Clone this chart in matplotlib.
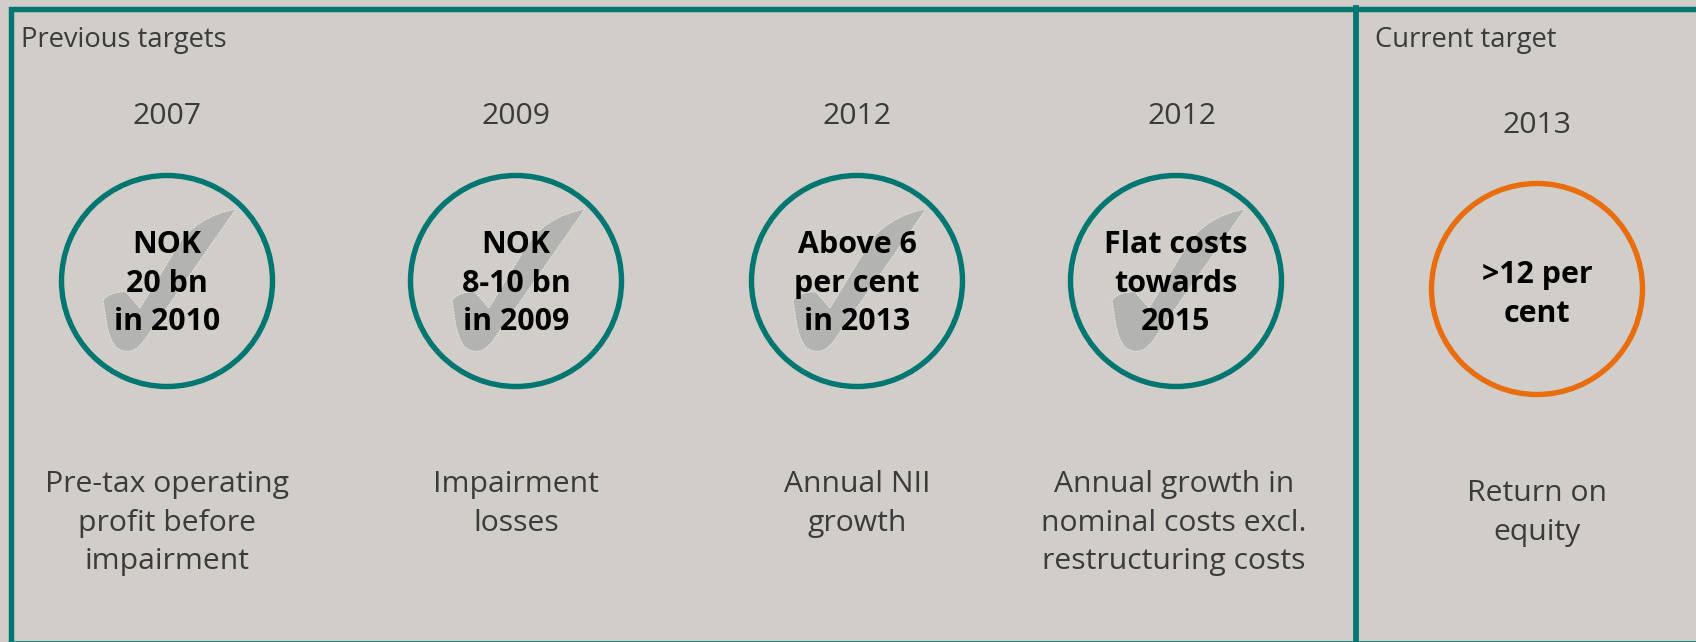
import matplotlib
matplotlib.use('Agg')
import matplotlib.pyplot as plt
from matplotlib.patches import Circle, PathPatch
from matplotlib.path import Path

W, H = 1696, 642
BG = '#d1cec9'
TEAL = '#007672'
ORANGE = '#e96d0c'
GREY_TEXT = '#3b3b3b'

# target data
years = ['2007', '2009', '2012', '2012', '2013']
targets = [['NOK', '20 bn', 'in 2010'],
           ['NOK', '8-10 bn', 'in 2009'],
           ['Above 6', 'per cent', 'in 2013'],
           ['Flat costs', 'towards', '2015'],
           ['>12 per', 'cent']]
descriptions = [['Pre-tax operating', 'profit before', 'impairment'],
                ['Impairment', 'losses'],
                ['Annual NII', 'growth'],
                ['Annual growth in', 'nominal costs excl.', 'restructuring costs'],
                ['Return on', 'equity']]
reached = [True, True, True, True, False]

# layout in pixels, text rows are baselines
centres_x = [167, 516, 857, 1176, 1537]
centres_y = [281, 281, 281, 281, 289]
year_x = [167, 516, 857, 1182, 1537]
desc_x = [167, 516, 857, 1174, 1537]
year_y = [124, 124, 124, 124, 133]
target_y = [253, 253, 253, 253, 283]
desc_y = [492, 492, 492, 492, 501]
RADIUS = 105.5
LINE_H = 38.7

# tick outline, offsets from the circle centre
tick_moves = [(-64, 19), (-56, 10), (-41, 11), (-27, 27), (10, -34), (28, -64), (69, -72),
              (-24, 61), (-36, 76), (-50, 67), (-58, 60), (-61, 39), (-64, 19)]
tick_codes = [Path.MOVETO, Path.CURVE3, Path.CURVE3, Path.LINETO, Path.LINETO, Path.CURVE3, Path.CURVE3,
              Path.LINETO, Path.CURVE3, Path.CURVE3, Path.CURVE3, Path.CURVE3, Path.CLOSEPOLY]


def draw_tick(ax, cx, cy):
    verts = [(cx + dx, cy + dy) for dx, dy in tick_moves]
    ax.add_patch(PathPatch(Path(verts, tick_codes), facecolor='#b3b3b2', edgecolor='#e4e4e2',
                           lw=0.7, ls=(0, (2, 1)), joinstyle='round', zorder=2))


plt.rcParams['font.family'] = ['Open Sans', 'DejaVu Sans']
fig = plt.figure(figsize=(W / 100, H / 100), dpi=100, facecolor=BG)
ax = fig.add_axes([0, 0, 1, 1])
ax.set_xlim(0, W)
ax.set_ylim(H, 0)
ax.axis('off')

# outer frame and divider
ax.plot([10.5, 10.5, W + 5], [H + 5, 8.5, 8.5], color=TEAL, lw=3.9, solid_joinstyle='miter')
ax.plot([10, W], [641.5, 641.5], color=TEAL, lw=1.2)
ax.plot([1356, 1356], [8, H], color=TEAL, lw=4.2)

ax.text(21, 47, 'Previous targets', fontsize=19.7, color=GREY_TEXT, va='baseline', ha='left')
ax.text(1375, 47, 'Current target', fontsize=19.7, color=GREY_TEXT, va='baseline', ha='left')

for i, year in enumerate(years):
    cx, cy = centres_x[i], centres_y[i]
    ax.text(year_x[i], year_y[i], year, fontsize=21.7, color=GREY_TEXT, ha='center', va='baseline')
    if reached[i]:
        draw_tick(ax, cx, cy)
    ax.add_patch(Circle((cx, cy), RADIUS, fill=False, lw=3.9,
                        edgecolor=TEAL if reached[i] else ORANGE, zorder=3))
    for j, line in enumerate(targets[i]):
        ax.text(cx, target_y[i] + j * LINE_H, line, fontsize=21.9, fontweight='bold', color='black',
                ha='center', va='baseline', zorder=4)
    for j, line in enumerate(descriptions[i]):
        ax.text(desc_x[i], desc_y[i] + j * LINE_H, line, fontsize=21.7, color=GREY_TEXT,
                ha='center', va='baseline')

fig.savefig('out.png', dpi=100, facecolor=BG)
